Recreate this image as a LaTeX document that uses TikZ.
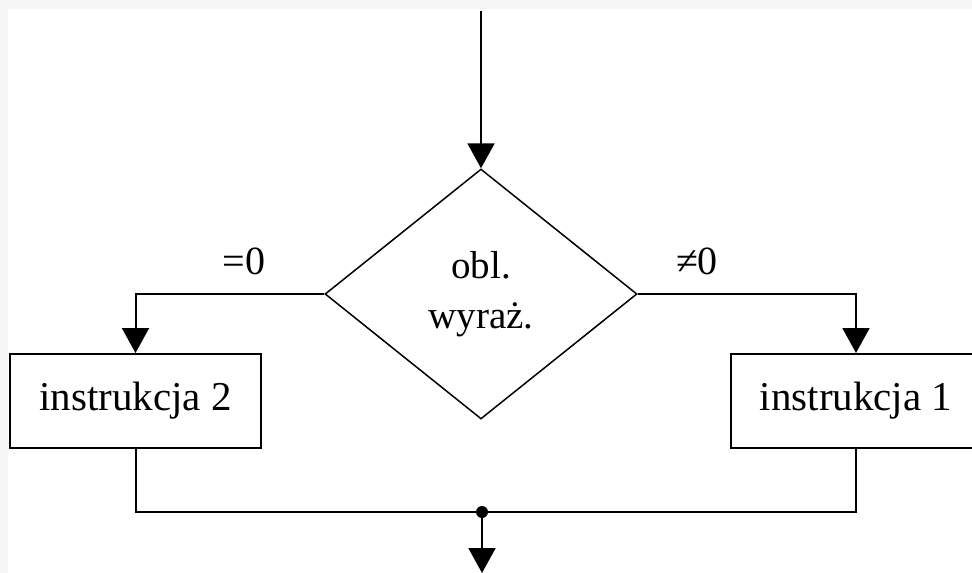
\documentclass[tikz,border=0pt]{standalone}
\usepackage{fontspec}
\setmainfont{Liberation Serif}
\usetikzlibrary{shapes.geometric,arrows.meta}
\definecolor{pagegray}{HTML}{F7F7F7}
\tikzset{
  conn/.style={line width=2pt},
  arr/.style={conn,-{Triangle[width=27pt,length=25pt]}},
  instr/.style={draw,line width=2pt,minimum width=251pt,minimum height=94pt,inner sep=0pt,font=\fontsize{41pt}{49pt}\selectfont},
  cond/.style={draw,diamond,line width=1.5pt,minimum width=312pt,minimum height=250pt,inner sep=0pt,align=center,font=\fontsize{39pt}{50pt}\selectfont},
  lbl/.style={inner sep=0pt,font=\fontsize{40pt}{48pt}\selectfont}
}
\begin{document}
\begin{tikzpicture}[x=1pt,y=-1pt]
\useasboundingbox (0,0) rectangle (972,573);
\fill[pagegray] (0,0) rectangle (972,573);
\fill[white] (8,9) rectangle (972,573);
\node[cond] (d) at (481,294) {obl.\\wyraż.};
\node[instr] (b2) at (135.5,401) {instrukcja 2};
\node[instr] (b1) at (856,401) {instrukcja 1};
\coordinate (top) at (481,11);
\coordinate (j) at (482,512);
\coordinate (out) at (482,573);
\node[lbl] (l0) at (244,261) {=0};
\node[lbl] (l1) at (697,261) {≠0};
\draw[arr] (top) -- (d.north);
\draw[arr] (d.west) -| (b2.north);
\draw[arr] (d.east) -| (b1.north);
\draw[conn] (b2.south) |- (j) -| (b1.south);
\fill (j) circle (6pt);
\draw[arr] (j) -- (out);
\end{tikzpicture}
\end{document}
